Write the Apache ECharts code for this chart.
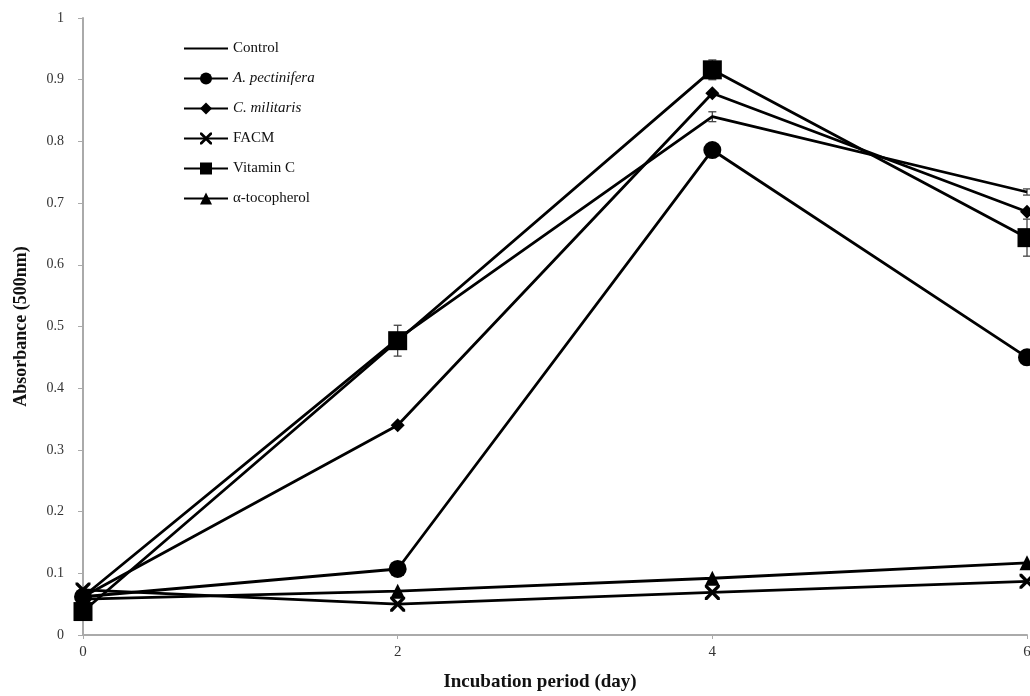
<!DOCTYPE html>
<html>
<head>
<meta charset="utf-8">
<script src="https://cdn.jsdelivr.net/npm/echarts@6/dist/echarts.min.js"></script>
<style>html,body{margin:0;padding:0;background:#fff;}#c{width:1030px;height:696px;}</style>
</head>
<body>
<div id="c"></div>
<script>
const days = [0, 2, 4, 6];
const seriesNames = ['Control', 'A. pectinifera', 'C. militaris', 'FACM', 'Vitamin C', 'α-tocopherol'];
const control = [0.062, 0.48, 0.84, 0.718];
const aPectinifera = [0.062, 0.107, 0.786, 0.45];
const cMilitaris = [0.062, 0.34, 0.878, 0.686];
const facm = [0.073, 0.05, 0.069, 0.087];
const vitaminC = [0.038, 0.477, 0.916, 0.644];
const aTocopherol = [0.058, 0.071, 0.092, 0.117];
const controlErr = [0, 0, 0.008, 0.005];
const vitaminCErr = [0, 0.025, 0.016, 0.03];
const yTicks = [0, 0.1, 0.2, 0.3, 0.4, 0.5, 0.6, 0.7, 0.8, 0.9, 1];

const pairs = v => days.map((d, i) => [d, v[i]]);
const errPairs = (v, e) => days.map((d, i) => [d, v[i], e[i]]);
const xPath = 'path://M0,0L1.6,0L5,3.4L8.4,0L10,0L10,1.6L6.6,5L10,8.4L10,10L8.4,10L5,6.6L1.6,10L0,10L0,8.4L3.4,5L0,1.6Z';

function lineSeries(name, vals, symbol, size, show) {
  return {
    name: name, type: 'line', data: pairs(vals), symbol: symbol, symbolSize: size,
    showSymbol: show,
    lineStyle: {color: '#000', width: 2.8}, itemStyle: {color: '#000'},
    z: 3, animation: false
  };
}
function errSeries(vals, errs) {
  return {
    type: 'custom', data: errPairs(vals, errs), z: 2, animation: false, silent: true,
    encode: {x: 0, y: 1},
    renderItem: function (params, api) {
      const x = api.value(0), y = api.value(1), e = api.value(2);
      if (!e) return null;
      const top = api.coord([x, y + e]), bot = api.coord([x, y - e]);
      const cap = 4;
      const st = {stroke: '#444', lineWidth: 1.3};
      return {type: 'group', children: [
        {type: 'line', shape: {x1: top[0], y1: top[1], x2: bot[0], y2: bot[1]}, style: st},
        {type: 'line', shape: {x1: top[0] - cap, y1: top[1], x2: top[0] + cap, y2: top[1]}, style: st},
        {type: 'line', shape: {x1: bot[0] - cap, y1: bot[1], x2: bot[0] + cap, y2: bot[1]}, style: st}
      ]};
    }
  };
}

const chart = echarts.init(document.getElementById('c'));
const serif = 'Liberation Serif, Times New Roman, serif';
const legendData = seriesNames.map(n => n === 'Control' ? {name: n, itemStyle: {opacity: 0}} : {name: n});
chart.setOption({
  backgroundColor: '#fff',
  animation: false,
  grid: {left: 83, right: 3, top: 18, bottom: 61, containLabel: false, outerBoundsMode: 'none'},
  legend: {
    data: legendData, orient: 'vertical', left: 178, top: 36,
    itemWidth: 44, itemHeight: 15, itemGap: 15,
    textStyle: {fontFamily: serif, fontSize: 15, color: '#111',
      rich: {i: {fontFamily: serif, fontSize: 15, fontStyle: 'italic', color: '#111'}}},
    formatter: function (n) { return (n === 'A. pectinifera' || n === 'C. militaris') ? '{i|' + n + '}' : n; }
  },
  xAxis: {
    type: 'value', min: 0, max: 6, interval: 2,
    name: 'Incubation period (day)', nameLocation: 'middle', nameGap: 38,
    nameTextStyle: {fontFamily: serif, fontSize: 19, fontWeight: 'bold', color: '#111', padding: [0, 30, 0, 0]},
    axisLine: {lineStyle: {color: '#aaa', width: 2}},
    axisTick: {show: true, length: 4, lineStyle: {color: '#aaa'}},
    axisLabel: {fontFamily: serif, fontSize: 15, color: '#333', margin: 10},
    splitLine: {show: false}
  },
  yAxis: {
    type: 'value', min: 0, max: 1, interval: 0.1,
    name: 'Absorbance (500nm)', nameLocation: 'middle', nameGap: 53,
    nameTextStyle: {fontFamily: serif, fontSize: 18, fontWeight: 'bold', color: '#111'},
    axisLine: {show: true, lineStyle: {color: '#aaa', width: 2}},
    axisTick: {show: true, length: 5, lineStyle: {color: '#aaa'}},
    axisLabel: {fontFamily: serif, fontSize: 14, color: '#333', margin: 19,
      formatter: function (v) { const t = yTicks.find(k => Math.abs(k - v) < 1e-6); return t === undefined ? '' : String(t); }},
    splitLine: {show: false}
  },
  series: [
    errSeries(control, controlErr),
    errSeries(vitaminC, vitaminCErr),
    lineSeries('Control', control, 'circle', 6, false),
    lineSeries('A. pectinifera', aPectinifera, 'circle', 18, true),
    lineSeries('C. militaris', cMilitaris, 'diamond', 14, true),
    lineSeries('FACM', facm, xPath, 15, true),
    lineSeries('Vitamin C', vitaminC, 'rect', 19, true),
    lineSeries('α-tocopherol', aTocopherol, 'triangle', 15, true)
  ]
});
</script>
</body>
</html>
